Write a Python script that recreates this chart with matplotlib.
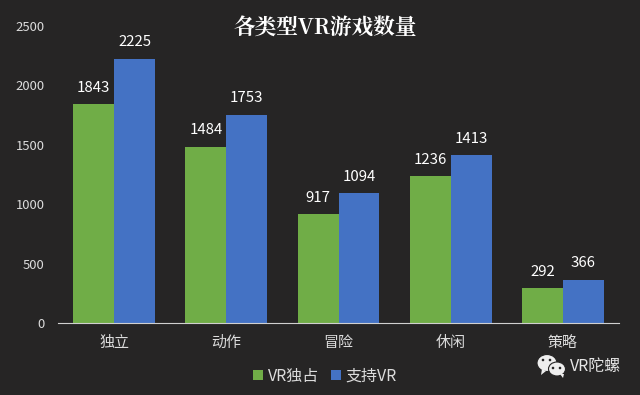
import matplotlib
matplotlib.use("Agg")
import matplotlib.pyplot as plt
from matplotlib.patches import Ellipse, Polygon
from matplotlib.transforms import IdentityTransform
import numpy as np

categories = ["独立", "动作", "冒险", "休闲", "策略"]
exclusive = [1843, 1484, 917, 1236, 292]
supported = [2225, 1753, 1094, 1413, 366]
series_names = ["VR独占", "支持VR"]
y_ticks = [0, 500, 1000, 1500, 2000, 2500]

plt.rcParams['font.family'] = ['Noto Sans CJK SC', 'DejaVu Sans']
BG = "#262525"
TXT = "#dcdcdc"
H = 395
fig = plt.figure(figsize=(6.4, 3.95), dpi=100, facecolor=BG)
ax = fig.add_axes([58/640, 1-323/H, (619-58)/640, (323-26)/H], facecolor=BG)
x = np.arange(5)
w = 0.365
b1 = ax.bar(x-w/2, exclusive, w, color="#70ad47", label=series_names[0])
b2 = ax.bar(x+w/2, supported, w, color="#4472c4", label=series_names[1])
for bars in (b1, b2):
    ax.bar_label(bars, padding=6.8, color="white", fontsize=10.8)
ax.set_xlim(-0.5, 4.5)
ax.set_ylim(0, 2500)
ax.set_yticks(y_ticks)
ax.set_xticks(x, categories)
ax.tick_params(axis='y', length=0, colors=TXT, labelsize=9.4, pad=9.5)
ax.tick_params(axis='x', length=0, colors=TXT, labelsize=10.8, pad=9.2)
ax.grid(False)
for s in ["top", "right", "left"]:
    ax.spines[s].set_visible(False)
ax.spines["bottom"].set_color("#d0d0d0")
fig.text(325/640, 1-28/H, "各类型VR游戏数量", color="white", fontsize=15.6,
         fontweight="bold", ha="center", va="center",
         family=['Noto Serif CJK SC', 'Noto Sans CJK SC', 'DejaVu Sans'])
ax.legend(loc="center", bbox_to_anchor=(325/640, 1-376/H), bbox_transform=fig.transFigure,
          ncol=2, frameon=False, labelcolor=TXT, fontsize=11.5, handlelength=0.62, handleheight=0.62,
          columnspacing=0.75, handletextpad=0.3)
fig.text(570/640, 1-366/H, "VR陀螺", color="#e6e6e6", fontsize=11.5, va="center")
# WeChat-style logo in the watermark
for cx, cy, ew, eh in [(547, 363, 20, 17), (557, 369, 17, 14)]:
    fig.add_artist(Ellipse((cx, H-cy), ew, eh, facecolor="#eeeeee", edgecolor=BG, lw=0.8,
                           transform=IdentityTransform()))
fig.add_artist(Polygon([(542, H-369), (546, H-371), (541, H-375)], closed=True, facecolor="#eeeeee",
                       edgecolor="none", transform=IdentityTransform()))
fig.add_artist(Polygon([(560, H-374), (564, H-374), (563, H-378)], closed=True, facecolor="#eeeeee",
                       edgecolor="none", transform=IdentityTransform()))
for ex, ey in [(543, 360), (550, 360), (553, 368), (560, 368)]:
    fig.add_artist(Ellipse((ex, H-ey), 2.6, 2.6, facecolor=BG, edgecolor="none",
                           transform=IdentityTransform()))
fig.savefig("out.png", dpi=100, facecolor=BG)
